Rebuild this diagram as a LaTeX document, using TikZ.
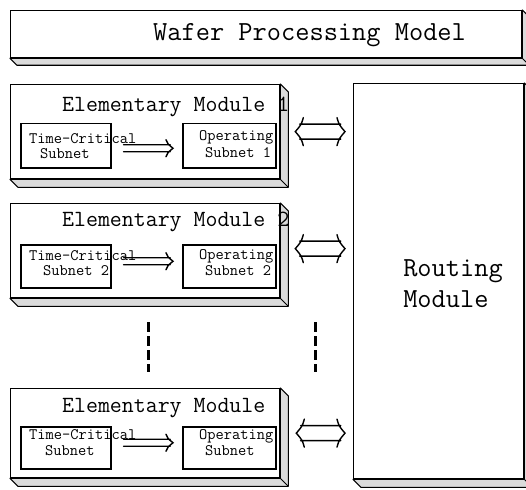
\documentclass[tikz,border=0pt]{standalone}
\usetikzlibrary{arrows.meta,calc}

% raised "slab" behind a face node: shaded right side and bottom
\newcommand\extrude[2]{%
  \filldraw[slab] (#1.north east) -- ++(#2,#2) -- ($(#1.south east)+(#2,#2)$)
    -- ($(#1.south west)+(#2,#2)$) -- (#1.south west) -- (#1.south east) -- cycle;
  \draw[slabedge] (#1.south east) -- ++(#2,#2);}

\begin{document}
\begin{tikzpicture}[x=1pt,y=-1pt,
  face/.style={draw, line width=1.3pt, fill=white, inner sep=0pt, anchor=north west},
  slab/.style={fill=black!14, draw=black, line width=1.1pt, line join=round},
  slabedge/.style={draw=black, line width=0.8pt},
  sub/.style={draw, line width=1.5pt, inner sep=0pt, anchor=north west},
  big/.style={font=\ttfamily\fontsize{27.6}{31}\selectfont, inner sep=0pt},
  mid/.style={font=\ttfamily\fontsize{23.2}{26}\selectfont, inner sep=0pt, anchor=base west},
  small/.style={font=\ttfamily\fontsize{16}{18}\selectfont, inner sep=0pt, anchor=base west},
  % hollow one-way arrow (open tail)
  flow/.style={line width=1.4pt, line cap=round, to path={
    let \p1=(\tikztostart), \p2=(\tikztotarget) in
    (\x1,\y1+3.5pt) -- (\x2-2.9pt,\y1+3.5pt)
    (\x1,\y1-3.5pt) -- (\x2-2.9pt,\y1-3.5pt)
    (\x2-7pt,\y1+8.5pt) .. controls (\x2-5.5pt,\y1+4.5pt) .. (\x2,\y1)
      .. controls (\x2-5.5pt,\y1-4.5pt) .. (\x2-7pt,\y1-8.5pt)}},
  % hollow two-way arrow
  link/.style={line width=1.4pt, line cap=round, to path={
    let \p1=(\tikztostart), \p2=(\tikztotarget) in
    (\x1+4.3pt,\y1+7.5pt) -- (\x2-4.3pt,\y1+7.5pt)
    (\x1+4.3pt,\y1-7.5pt) -- (\x2-4.3pt,\y1-7.5pt)
    (\x2-8pt,\y1+14pt) .. controls (\x2-6pt,\y1+7pt) .. (\x2,\y1)
      .. controls (\x2-6pt,\y1-7pt) .. (\x2-8pt,\y1-14pt)
    (\x1+8pt,\y1+14pt) .. controls (\x1+6pt,\y1+7pt) .. (\x1,\y1)
      .. controls (\x1+6pt,\y1-7pt) .. (\x1+8pt,\y1-14pt)}},
  more/.style={line width=3pt, dash pattern=on 10pt off 4pt},
]
\useasboundingbox (0,0) rectangle (526,489);

% title bar
\node[face, minimum width=511, minimum height=47] (wpm) at (10,10) {};
\extrude{wpm}{7}
\node[big, anchor=base west] (wpmt) at (153,41) {Wafer Processing Model};

% routing module
\node[face, minimum width=170, minimum height=395] (rt) at (353,83) {};
\extrude{rt}{8}
\node[big, align=left, anchor=center] (rtt) at (453,284) {Routing\\Module};

% elementary modules
\node[face, minimum width=269, minimum height=94] (m1) at (10,84) {};
\extrude{m1}{8}
\node[face, minimum width=269, minimum height=94] (m2) at (10,203) {};
\extrude{m2}{8}
\node[face, minimum width=269, minimum height=89] (m3) at (10,388) {};
\extrude{m3}{8}

\node[mid] (m1t) at (62,112) {Elementary Module 1};
\node[mid] (m2t) at (62,226) {Elementary Module 2};
\node[mid] (m3t) at (62,412) {Elementary Module};

% subnets of module 1
\node[sub, minimum width=90, minimum height=44] (tc1) at (20,123) {};
\node[sub, minimum width=93, minimum height=44] (op1) at (182,123) {};
\node[small] (tc1a) at (29,143) {Time-Critical};
\node[small] (tc1b) at (40,158) {Subnet};
\node[small] (op1a) at (199,140) {Operating};
\node[small] (op1b) at (205,157) {Subnet 1};

% subnets of module 2
\node[sub, minimum width=90, minimum height=43] (tc2) at (20,244) {};
\node[sub, minimum width=93, minimum height=43] (op2) at (182,244) {};
\node[small] (tc2a) at (29,260) {Time-Critical};
\node[small] (tc2b) at (43,275) {Subnet 2};
\node[small] (op2a) at (199,259) {Operating};
\node[small] (op2b) at (205,275) {Subnet 2};

% subnets of the last module
\node[sub, minimum width=90, minimum height=42] (tc3) at (20,426) {};
\node[sub, minimum width=93, minimum height=42] (op3) at (182,426) {};
\node[small] (tc3a) at (29,439) {Time-Critical};
\node[small] (tc3b) at (45,455) {Subnet};
\node[small] (op3a) at (199,439) {Operating};
\node[small] (op3b) at (205,455) {Subnet};

% time-critical -> operating
\draw[flow] ([xshift=12pt,yshift=-2.5pt]tc1.east) to ([xshift=-9pt,yshift=-2.5pt]op1.west);
\draw[flow] ([xshift=12pt,yshift=5pt]tc2.east) to ([xshift=-9pt,yshift=5pt]op2.west);
\draw[flow] ([xshift=12pt,yshift=5pt]tc3.east) to ([xshift=-9pt,yshift=5pt]op3.west);

% module <-> routing
\draw[link] ([xshift=15pt]m1.east) to ([xshift=-8pt]m1.east -| rt.west);
\draw[link] ([xshift=15pt,yshift=2pt]m2.east) to ([xshift=-8pt,yshift=2pt]m2.east -| rt.west);
\draw[link] ([xshift=16pt,yshift=0pt]m3.east) to ([xshift=-8pt,yshift=0pt]m3.east -| rt.west);

% further modules omitted
\coordinate (d1a) at (148,322);
\coordinate (d1b) at (148,372);
\coordinate (d2a) at (315,322);
\coordinate (d2b) at (315,372);
\draw[more] (d1a) -- (d1b);
\draw[more] (d2a) -- (d2b);
\end{tikzpicture}
\end{document}
